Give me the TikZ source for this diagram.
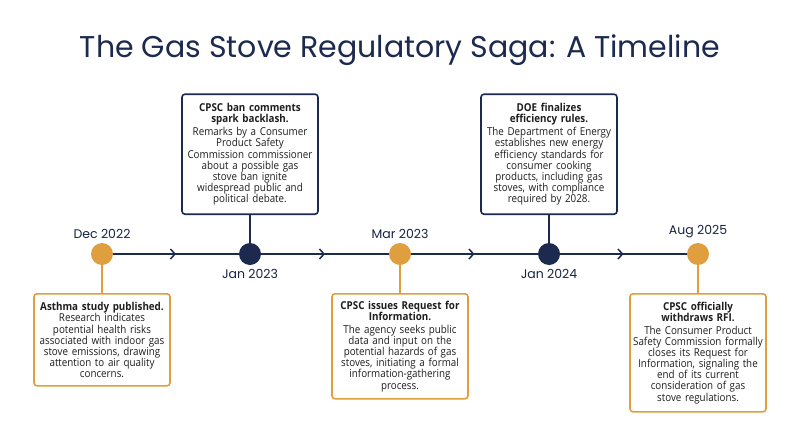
\documentclass[tikz,border=0pt]{standalone}
\usepackage{fontspec}
\setmainfont{Poppins}
\newfontfamily\cardfont[FakeStretch=0.9]{Open Sans}
\usetikzlibrary{arrows.meta,decorations.markings}
\definecolor{navy}{HTML}{1B2A4E}
\definecolor{gold}{HTML}{E09F3E}
\definecolor{ink}{HTML}{1E1E1E}
\hyphenpenalty=10000

\begin{document}
\begin{tikzpicture}[x=1pt,y=-1pt,
  dot/.style={circle,minimum size=22pt,inner sep=0pt},
  card/.style={draw,fill=white,rounded corners=3pt,line width=1.6pt,text width=135pt,
    align=center,inner xsep=0.5pt,inner ysep=5pt,text=ink,
    font=\cardfont\fontsize{10.9}{11.1}\selectfont},
  date/.style={text=navy!85!black,font=\fontsize{12.5}{14}\selectfont},
  midarrow/.style={postaction={decorate,decoration={markings,
    mark=at position .5 with {\arrow{Straight Barb[length=4.5pt,width=10pt,line width=1.5pt]}}}}}]
\fill[white] (0,0) rectangle (800,447);
\useasboundingbox (0,0) rectangle (800,447);

\node[text=navy,font=\fontsize{30}{34}\selectfont] (title) at (400,50) {The Gas Stove Regulatory Saga: A Timeline};

% timeline points
\node[dot,fill=gold] (d0) at (102,254) {};
\node[dot,fill=navy] (d1) at (250,254) {};
\node[dot,fill=gold] (d2) at (400,254) {};
\node[dot,fill=navy] (d3) at (549,254) {};
\node[dot,fill=gold] (d4) at (698,254) {};

\draw[navy,line width=1.5pt,midarrow] (d0) -- (d1);
\draw[navy,line width=1.5pt,midarrow] (d1) -- (d2);
\draw[navy,line width=1.5pt,midarrow] (d2) -- (d3);
\draw[navy,line width=1.5pt,midarrow] (d3) -- (d4);

% dates
\node[date,above=1pt] (t0) at (d0.north) {Dec 2022};
\node[date,below=1pt] (t1) at (d1.south) {Jan 2023};
\node[date,above=1pt] (t2) at (d2.north) {Mar 2023};
\node[date,below=1pt] (t3) at (d3.south) {Jan 2024};
\node[date,above=1pt] (t4) at (d4.north) {Aug 2025};

% event cards
\node[card,draw=gold,anchor=north,minimum height=92pt] (c0) at (102,293) {%
  {\bfseries Asthma study published.}\\[0.5pt]
  Research indicates\\ potential health risks\\ associated with indoor gas\\
  stove emissions, drawing\\ attention to air quality\\ concerns.};
\node[card,draw=navy,anchor=south,minimum height=120pt] (c1) at (250,215) {%
  {\bfseries CPSC ban comments\\ spark backlash.}\\[2pt]
  Remarks by a Consumer\\ Product Safety\\ Commission commissioner\\
  about a possible gas\\ stove ban ignite\\ widespread public and\\ political debate.};
\node[card,draw=gold,anchor=north,minimum height=105pt] (c2) at (400,293) {%
  {\bfseries CPSC issues Request for\\ Information.}\\[2pt]
  The agency seeks public\\ data and input on the\\ potential hazards of gas\\
  stoves, initiating a formal\\ information-gathering\\ process.};
\node[card,draw=navy,anchor=south,minimum height=120pt] (c3) at (549,215) {%
  {\bfseries DOE finalizes\\ efficiency rules.}\\[2pt]
  The Department of Energy\\ establishes new energy\\ efficiency standards for\\
  consumer cooking\\ products, including gas\\ stoves, with compliance\\ required by 2028.};
\node[card,draw=gold,anchor=north,minimum height=118pt] (c4) at (698,293) {%
  {\bfseries CPSC officially\\ withdraws RFI.}\\[2pt]
  The Consumer Product\\ Safety Commission formally\\ closes its Request for\\
  Information, signaling the\\ end of its current\\ consideration of gas\\ stove regulations.};

% stems
\draw[gold,line width=1.6pt] (d0) -- (c0);
\draw[navy,line width=1.6pt] (d1) -- (c1);
\draw[gold,line width=1.6pt] (d2) -- (c2);
\draw[navy,line width=1.6pt] (d3) -- (c3);
\draw[gold,line width=1.6pt] (d4) -- (c4);
\end{tikzpicture}
\end{document}
